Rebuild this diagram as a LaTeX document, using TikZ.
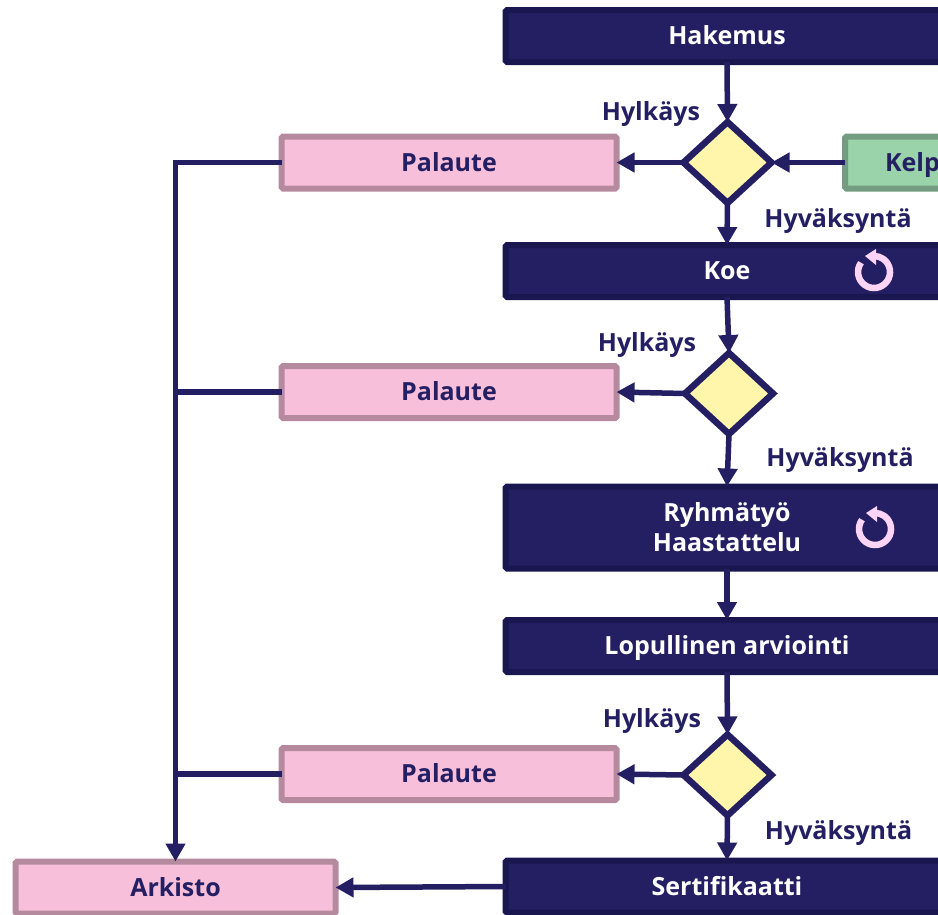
\documentclass[tikz,border=0pt]{standalone}
\usepackage{fontspec}
\setmainfont{Open Sans}
\usetikzlibrary{shapes.geometric,arrows.meta}
\definecolor{navy}{HTML}{241F63}
\definecolor{navyedge}{HTML}{1A164F}
\definecolor{pinkfill}{HTML}{F8BFDA}
\definecolor{pinkedge}{HTML}{B68A9E}
\definecolor{greenfill}{HTML}{9AD2AA}
\definecolor{greenedge}{HTML}{739C80}
\definecolor{yellowfill}{HTML}{FFF5AB}
\definecolor{ringcol}{HTML}{FCD4F5}
\tikzset{
  x=1pt,y=-1pt,
  every node/.style={font=\fontsize{25}{30}\selectfont\bfseries},
  oneline/.style={text height=18pt,text depth=1pt},
  basebox/.style={rectangle,rounded corners=1.5pt,line width=6pt,outer sep=0pt,inner sep=0pt,align=center},
  darkbox/.style={basebox,draw=navyedge,fill=navy,text=white,minimum width=443pt},
  pinkbox/.style={basebox,oneline,draw=pinkedge,fill=pinkfill,text=navy,minimum height=52pt},
  greenbox/.style={basebox,oneline,draw=greenedge,fill=greenfill,text=navy,minimum height=52pt},
  decision/.style={diamond,draw=navy,fill=yellowfill,line width=6.5pt,miter limit=2,outer sep=0pt,inner sep=0pt,minimum width=88pt,minimum height=81pt},
  tag/.style={text height=18pt,text depth=2pt,text=navy,inner sep=0pt},
  flow/.style={draw=navy,line width=5.5pt,-{Triangle[length=18pt,width=19pt]}},
  plainflow/.style={draw=navy,line width=5.5pt},
  ringicon/.pic={
    \draw[ringcol,line width=6.5pt] (-13,-9.3) arc[start angle=-144.5,end angle=-450,radius=16];
    \fill[ringcol] (-9,-16) -- (2,-23) -- (2,-7) -- cycle;
  }
}
\begin{document}
\begin{tikzpicture}
\useasboundingbox (0,0) rectangle (938,914);
\clip (0,0) rectangle (938,914);
% process boxes
\node[darkbox,oneline,minimum height=52pt] (hakemus) at (727,36) {Hakemus};
\node[darkbox,oneline,minimum height=52pt] (koe) at (727,271) {Koe};
\node[darkbox,minimum height=82pt] (ryhma) at (727,527.5) {Ryhmätyö\\Haastattelu};
\node[darkbox,oneline,minimum height=52pt] (lopullinen) at (727,646) {Lopullinen arviointi};
\node[darkbox,oneline,minimum height=52pt] (sertifikaatti) at (727,886.5) {Sertifikaatti};
% decisions
\node[decision] (d1) at (727.5,162.5) {};
\node[decision] (d2) at (729,393.5) {};
\node[decision] (d3) at (727.5,775) {};
% side boxes
\node[pinkbox,minimum width=335pt] (pal1) at (449,162.5) {Palaute};
\node[pinkbox,minimum width=335pt] (pal2) at (449,392) {Palaute};
\node[pinkbox,minimum width=335pt] (pal3) at (449,774) {Palaute};
\node[pinkbox,minimum width=320pt] (arkisto) at (175.5,887.5) {Arkisto};
\node[greenbox,text width=150pt,inner xsep=40pt,align=left] (kelp) at (960,162.5) {Kelp};
% icons
\pic at (874,272) {ringicon};
\pic at (875,529) {ringicon};
% connectors
\draw[flow] (hakemus.south) -- (d1.north);
\draw[flow] (d1.south) -- (koe.north);
\draw[flow] (kelp.west) -- (d1.east);
\draw[flow] (d1.west) -- (pal1.east);
\draw[flow] (koe.south) -- (d2.north);
\draw[flow] (d2.west) -- (pal2.east);
\draw[flow] (d2.south) -- (ryhma.north);
\draw[flow] (ryhma.south) -- (lopullinen.north);
\draw[flow] (lopullinen.south) -- (d3.north);
\draw[flow] (d3.west) -- (pal3.east);
\draw[flow] (d3.south) -- (sertifikaatti.north);
\draw[flow] (sertifikaatti.west) -- (arkisto.east);
\coordinate (trunktop) at (arkisto.north |- pal1.west);
\draw[flow] ([yshift=2.75pt]trunktop) -- (arkisto.north);
\draw[plainflow] (pal1.west) -- (trunktop);
\draw[plainflow] (pal2.west) -- (arkisto.north |- pal2.west);
\draw[plainflow] (pal3.west) -- (arkisto.north |- pal3.west);
% labels
\node[tag] (h1) at (651,112) {Hylkäys};
\node[tag] (a1) at (838,219) {Hyväksyntä};
\node[tag] (h2) at (647,343) {Hylkäys};
\node[tag] (a2) at (840,458) {Hyväksyntä};
\node[tag] (h3) at (652,719) {Hylkäys};
\node[tag] (a3) at (838.5,831) {Hyväksyntä};
\end{tikzpicture}
\end{document}
